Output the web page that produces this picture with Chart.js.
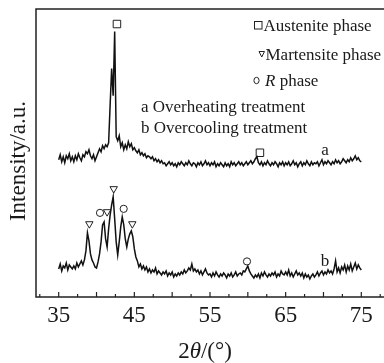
<!DOCTYPE html>
<html>
<head>
<meta charset="utf-8">
<script src="https://cdn.jsdelivr.net/npm/chart.js@4.4.0/dist/chart.umd.min.js"></script>
<style>
  html, body { margin: 0; padding: 0; background: #fff; }
  #wrap { width: 384px; height: 363px; }
</style>
</head>
<body>
<div id="wrap"><canvas id="xrd"></canvas></div>
<script>
//2theta sampling grid (degrees)
const angleStart = 35;
const angleStep = 0.2;

//Curve a - overheating treatment (intensity, a.u.)
const overheating = [
  137, 142, 135, 140, 134, 141, 138, 143, 136, 140,
  135, 141, 137, 143, 139, 136, 142, 140, 145, 143,
  147, 141, 138, 142, 136, 140, 144, 148, 145, 151,
  148, 152, 150, 154, 192, 228, 201, 265, 160, 156,
  161, 150, 154, 147, 152, 148, 155, 150, 153, 147,
  149, 146, 144, 147, 142, 144, 141, 143, 139, 141,
  140, 138, 140, 136, 138, 135, 137, 134, 136, 133,
  134, 131, 133, 135, 132, 134, 131, 133, 130, 134,
  132, 135, 133, 131, 134, 132, 136, 133, 131, 134,
  133, 130, 134, 132, 135, 131, 133, 136, 132, 134,
  131, 134, 132, 135, 130, 133, 131, 134, 132, 130,
  134, 131, 133, 130, 135, 132, 134, 131, 133, 135,
  132, 134, 131, 133, 135, 132, 134, 136, 133, 135,
  138, 140, 134, 132, 135, 131, 134, 132, 136, 133,
  131, 134, 132, 135, 133, 130, 134, 132, 135, 131,
  134, 132, 135, 131, 133, 136, 132, 134, 130, 133,
  135, 131, 134, 132, 136, 133, 131, 135, 132, 134,
  133, 135, 131, 134, 137, 132, 135, 133, 136, 134,
  132, 135, 133, 137, 134, 136, 133, 135, 138, 136,
  134, 137, 135, 139, 136, 138, 141, 137, 139, 136,
  135
];

//Curve b - overcooling treatment (intensity, a.u.)
const overcooling = [
  28, 33, 26, 31, 29, 34, 27, 32, 30, 28,
  31, 28, 34, 30, 33, 36, 32, 37, 46, 64,
  56, 43, 37, 34, 30, 29, 35, 43, 55, 72,
  75, 58, 50, 68, 82, 92, 100, 78, 55, 42,
  55, 70, 80, 72, 58, 50, 58, 63, 66, 60,
  48, 40, 36, 30, 33, 28, 31, 27, 30, 25,
  28, 24, 27, 25, 29, 23, 26, 24, 22, 25,
  23, 26, 21, 24, 22, 25, 20, 23, 21, 24,
  22, 25, 23, 27, 24, 26, 29, 27, 33, 26,
  28, 25, 27, 23, 26, 22, 25, 28, 24, 22,
  23, 20, 24, 21, 25, 22, 20, 23, 21, 24,
  22, 19, 23, 21, 24, 20, 22, 25, 21, 23,
  24, 22, 26, 25, 28, 31, 26, 23, 21, 19,
  22, 20, 23, 19, 24, 21, 25, 22, 20, 23,
  21, 24, 22, 25, 20, 23, 21, 26, 23, 22,
  25, 22, 27, 21, 24, 20, 23, 26, 22, 24,
  21, 24, 19, 23, 20, 22, 18, 21, 23, 20,
  22, 25, 21, 24, 26, 22, 25, 23, 27, 24,
  26, 23, 28, 36, 25, 29, 24, 30, 27, 32,
  25, 31, 27, 33, 26, 30, 34, 28, 32, 29,
  27
];

//Phase markers: [2theta, intensity]
const austeniteMarks = [[42.7, 272.5], [61.6, 144]];
const martensiteMarks = [[39.05, 73], [41.4, 85], [42.27, 108], [44.73, 73]];
const rPhaseMarks = [[40.46, 84], [43.59, 88], [59.89, 35.5]];

//Curve labels: [text, 2theta, intensity]
const curveLabels = [["a", 70.2, 146], ["b", 70.2, 35]];

//Axis ticks
const xTickLabels = [35, 45, 55, 65, 75];
const xMin = 32, xMax = 78;
const yMin = 0, yMax = 287.5;

const serif = "'Liberation Serif', 'Times New Roman', serif";
const ink = "#1a1a1a";

//Turn a series into x/y points
function toPoints(values) {
  return values.map(function (v, i) {
    return { x: +(angleStart + i * angleStep).toFixed(2), y: v };
  });
}
function markPoints(list) {
  return list.map(function (m) { return { x: m[0], y: m[1] }; });
}

//Frame, inner ticks, titles, legend and curve labels
const decorations = {
  id: 'decorations',
  afterDraw(chart) {
    const ctx = chart.ctx;
    const area = chart.chartArea;
    const xs = chart.scales.x;
    const ys = chart.scales.y;
    ctx.save();

    //Frame (top, left, bottom)
    ctx.strokeStyle = "#222";
    ctx.lineWidth = 1.5;
    ctx.beginPath();
    ctx.moveTo(chart.width, area.top);
    ctx.lineTo(area.left, area.top);
    ctx.lineTo(area.left, area.bottom);
    ctx.lineTo(chart.width, area.bottom);
    ctx.stroke();

    //Inner ticks on the bottom axis
    ctx.lineWidth = 1.2;
    for (let v = 32.5; v < xMax; v += 2.5) {
      const px = xs.getPixelForValue(v);
      const len = (v % 5 === 0) ? 5 : 3;
      ctx.beginPath();
      ctx.moveTo(px, area.bottom);
      ctx.lineTo(px, area.bottom - len);
      ctx.stroke();
    }

    ctx.fillStyle = ink;
    ctx.textBaseline = "alphabetic";

    //x title: 2θ/(°)
    const p1 = "2", p3 = "/(°)";
    ctx.font = "italic 23px " + serif;
    const wTheta = ctx.measureText("θ").width;
    ctx.font = "23px " + serif;
    const w1 = ctx.measureText(p1).width, w3 = ctx.measureText(p3).width;
    let tx = 205 - (w1 + wTheta + w3) / 2;
    const ty = 358;
    ctx.fillText(p1, tx, ty); tx += w1;
    ctx.font = "italic 23px " + serif;
    ctx.fillText("θ", tx, ty); tx += wTheta;
    ctx.font = "23px " + serif;
    ctx.fillText(p3, tx, ty);

    //y title
    ctx.save();
    ctx.translate(25, 161);
    ctx.rotate(-Math.PI / 2);
    ctx.textAlign = "center";
    ctx.font = "23px " + serif;
    ctx.fillText("Intensity/a.u.", 0, 0);
    ctx.restore();

    //Legend
    ctx.font = "17px " + serif;
    ctx.lineWidth = 1;
    ctx.strokeStyle = "#222";
    ctx.strokeRect(254.5, 21.5, 7.5, 7.5);
    ctx.fillText("Austenite phase", 263.5, 31);
    ctx.beginPath();
    ctx.moveTo(259, 51.5); ctx.lineTo(264.5, 51.5); ctx.lineTo(261.75, 57); ctx.closePath();
    ctx.stroke();
    ctx.fillText("Martensite phase", 265.5, 60);
    ctx.beginPath();
    ctx.ellipse(256.5, 80.5, 2.6, 3.2, 0, 0, Math.PI * 2);
    ctx.stroke();
    ctx.font = "italic 17px " + serif;
    ctx.fillText("R", 265, 86);
    const wR = ctx.measureText("R").width;
    ctx.font = "17px " + serif;
    ctx.fillText(" phase", 265 + wR, 86);
    ctx.fillText("a Overheating treatment", 141, 111.5);
    ctx.fillText("b Overcooling treatment", 141, 132.5);

    //Curve labels at data positions
    ctx.textAlign = "center";
    ctx.textBaseline = "middle";
    curveLabels.forEach(function (l) {
      ctx.fillText(l[0], xs.getPixelForValue(l[1]), ys.getPixelForValue(l[2]));
    });
    ctx.restore();
  }
};

const lineStyle = {
  type: 'line',
  borderColor: "#111",
  borderWidth: 1.5,
  pointRadius: 0,
  tension: 0,
  fill: false
};
const markStyle = {
  type: 'scatter',
  borderColor: "#222",
  backgroundColor: "rgba(0,0,0,0)",
  borderWidth: 1
};

new Chart(document.getElementById("xrd"), {
  data: {
    datasets: [
      Object.assign({ label: "a", data: toPoints(overheating) }, lineStyle),
      Object.assign({ label: "b", data: toPoints(overcooling) }, lineStyle),
      Object.assign({ label: "Austenite", data: markPoints(austeniteMarks), pointStyle: 'rect', pointRadius: 5.3 }, markStyle),
      Object.assign({ label: "Martensite", data: markPoints(martensiteMarks), pointStyle: 'triangle', pointRotation: 180, pointRadius: 4.3 }, markStyle),
      Object.assign({ label: "R", data: markPoints(rPhaseMarks), pointStyle: 'circle', pointRadius: 3.6 }, markStyle)
    ]
  },
  options: {
    responsive: true,
    maintainAspectRatio: false,
    animation: false,
    devicePixelRatio: 1,
    layout: { autoPadding: false, padding: { top: 9, right: 0, left: 0, bottom: 0 } },
    plugins: {
      legend: { display: false },
      tooltip: { enabled: false }
    },
    scales: {
      x: {
        type: 'linear',
        min: xMin,
        max: xMax,
        afterBuildTicks: function (scale) {
          scale.ticks = xTickLabels.map(function (v) { return { value: v }; });
        },
        afterFit: function (scale) {
          scale.height = 66;
          scale.paddingLeft = 0;
          scale.paddingRight = 0;
        },
        ticks: {
          font: { family: serif, size: 23 },
          color: ink,
          padding: 5,
          maxRotation: 0,
          autoSkip: false
        },
        grid: { display: false, drawTicks: false },
        border: { display: false }
      },
      y: {
        min: yMin,
        max: yMax,
        afterFit: function (scale) {
          scale.width = 36;
          scale.paddingTop = 0;
          scale.paddingBottom = 0;
        },
        ticks: { display: false },
        grid: { display: false, drawTicks: false },
        border: { display: false }
      }
    }
  },
  plugins: [decorations]
});
</script>
</body>
</html>
